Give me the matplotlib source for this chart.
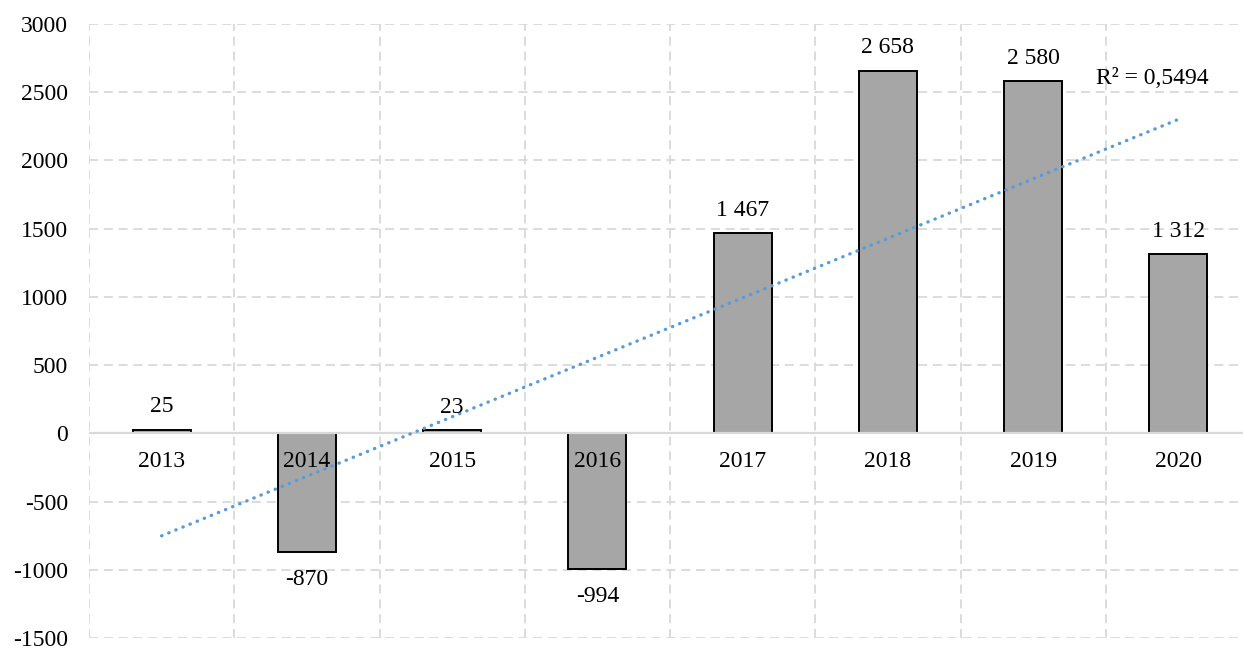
import matplotlib
matplotlib.use("Agg")
import matplotlib.pyplot as plt
import numpy as np

# chart data
years = ["2013", "2014", "2015", "2016", "2017", "2018", "2019", "2020"]
values = [25, -870, 23, -994, 1467, 2658, 2580, 1312]
yticks = [-1500, -1000, -500, 0, 500, 1000, 1500, 2000, 2500, 3000]
r2_text = "R² = 0,5494"

plt.rcParams["font.family"] = ["Liberation Serif", "DejaVu Serif"]
plt.rcParams["axes.unicode_minus"] = False

grid_col = "#D9D9D9"
fs = 17

fig = plt.figure(figsize=(12.43, 6.46), dpi=100)
ax = fig.add_axes([89 / 1243, 8 / 646, 1162 / 1243, 614 / 646])

x = np.arange(len(years))
ax.bar(x, values, width=0.4, color="#A6A6A6", edgecolor="black", linewidth=1.4, zorder=3)

# zero line on top of bars
ax.axhline(0, color=grid_col, linewidth=1.6, zorder=4)

# linear trend line
slope, icpt = np.polyfit(x, values, 1)
ax.plot(x, slope * x + icpt, color="#5B9BD5", linewidth=2.4, linestyle=(0, (0.1, 2.2)),
        dash_capstyle="round", zorder=5)
ax.text(6.82, 2600, r2_text, fontsize=fs, ha="center", va="center", zorder=6)

# value labels
for xi, v in zip(x, values):
    lab = f"{v:,}".replace(",", " ")
    if v >= 0:
        ax.annotate(lab, (xi, v), xytext=(0, 9), textcoords="offset points",
                    ha="center", va="bottom", fontsize=fs, zorder=6)
    else:
        ax.annotate(lab, (xi, v), xytext=(0, -12), textcoords="offset points",
                    ha="center", va="top", fontsize=fs, zorder=6)

# category labels sit under the zero line
for xi, name in zip(x, years):
    ax.annotate(name, (xi, 0), xytext=(0, -13), textcoords="offset points",
                ha="center", va="top", fontsize=fs, zorder=6)

ax.set_xlim(-0.5, len(years) - 0.5)
ax.set_ylim(-1500, 3000)
ax.set_yticks(yticks)
ax.set_yticklabels([str(t) for t in yticks], fontsize=fs)
ax.set_xticks([])
ax.set_xticks(np.arange(len(years) + 1) - 0.5, minor=True)
ax.tick_params(axis="y", length=0, pad=15)
ax.tick_params(axis="x", which="both", length=0, labelbottom=False)

ax.grid(axis="y", which="major", color=grid_col, linewidth=1.3, linestyle=(0, (5, 3.2)), zorder=0)
ax.grid(axis="x", which="minor", color=grid_col, linewidth=1.3, linestyle=(0, (5, 3.2)), zorder=0)
for s in ax.spines.values():
    s.set_visible(False)

fig.savefig("out.png", dpi=100)
